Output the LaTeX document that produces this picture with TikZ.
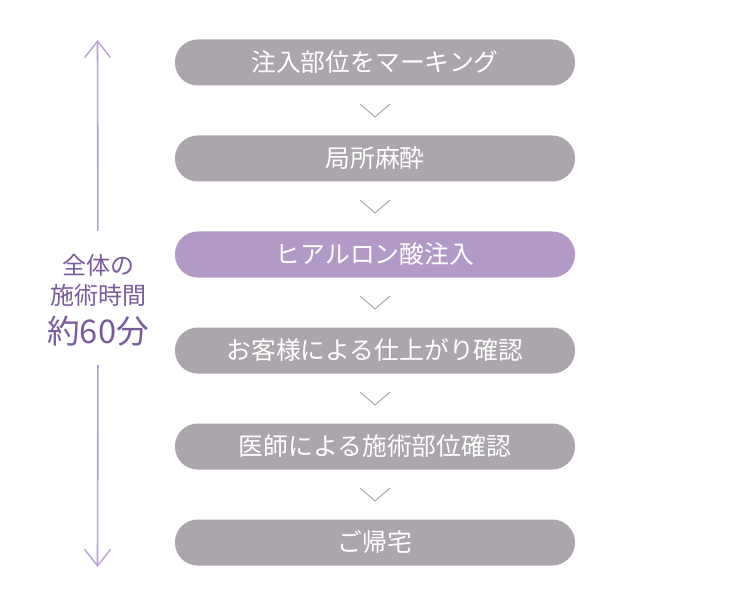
\documentclass[tikz,border=0pt]{standalone}
\usepackage{fontspec}
\setmainfont{Noto Sans CJK JP}
\usepackage{xcolor}
\usetikzlibrary{arrows.meta, calc}
\definecolor{clrStep}{HTML}{ABA5AC}
\definecolor{clrMain}{HTML}{B39AC6}
\definecolor{clrChev}{HTML}{ABABAB}
\definecolor{clrTime}{HTML}{7A5B9C}
\definecolor{clrLine}{HTML}{B89ED4}

\begin{document}
\begin{tikzpicture}[
    x=0.75pt, y=-0.75pt,
    stepbox/.style={rectangle, rounded corners=17pt, minimum width=300pt, minimum height=34.5pt, inner sep=0pt, text=white, font=\fontsize{18.6}{22}\selectfont},
    chev/.style={line width=0.8pt, clrChev},
    timearrow/.style={-{Straight Barb[length=12.5pt, width=19.5pt, line width=1pt]}, line width=1.2pt, clrLine},
    timelbl/.style={align=center, text=clrTime, inner sep=0pt},
]
\useasboundingbox (0,0) rectangle (750,606);

% === Steps ===
\node[stepbox, fill=clrStep] (s1) at (375, 62.5) {注入部位をマーキング};
\node[stepbox, fill=clrStep] (s2) at (375, 158.5) {局所麻酔};
\node[stepbox, fill=clrMain] (s3) at (375, 254.5) {ヒアルロン酸注入};
\node[stepbox, fill=clrStep] (s4) at (375, 350.5) {お客様による仕上がり確認};
\node[stepbox, fill=clrStep] (s5) at (375, 446.5) {医師による施術部位確認};
\node[stepbox, fill=clrStep] (s6) at (375, 542.5) {ご帰宅};

% === Chevrons between steps ===
\foreach \a/\b in {s1/s2, s2/s3, s3/s4, s4/s5, s5/s6}
    \draw[chev] ($($(\a.south)!0.5!(\b.north)$)+(-15,-6.5)$) -- ++(15,13) -- ++(15,-13);

% === Total time ===
\node[timelbl, font=\fontsize{18}{22.5}\selectfont] (total) at (98, 300)
    {全体の\\施術時間\\[7pt]\fontsize{24.5}{28}\selectfont 約60分};
\coordinate (ttop) at (97.5, 40);
\coordinate (tbot) at (97.5, 567);
\draw[timearrow, shorten <=17pt] (total.north) -- (ttop);
\draw[timearrow, shorten <=14pt] (total.south) -- (tbot);

\end{tikzpicture}
\end{document}
